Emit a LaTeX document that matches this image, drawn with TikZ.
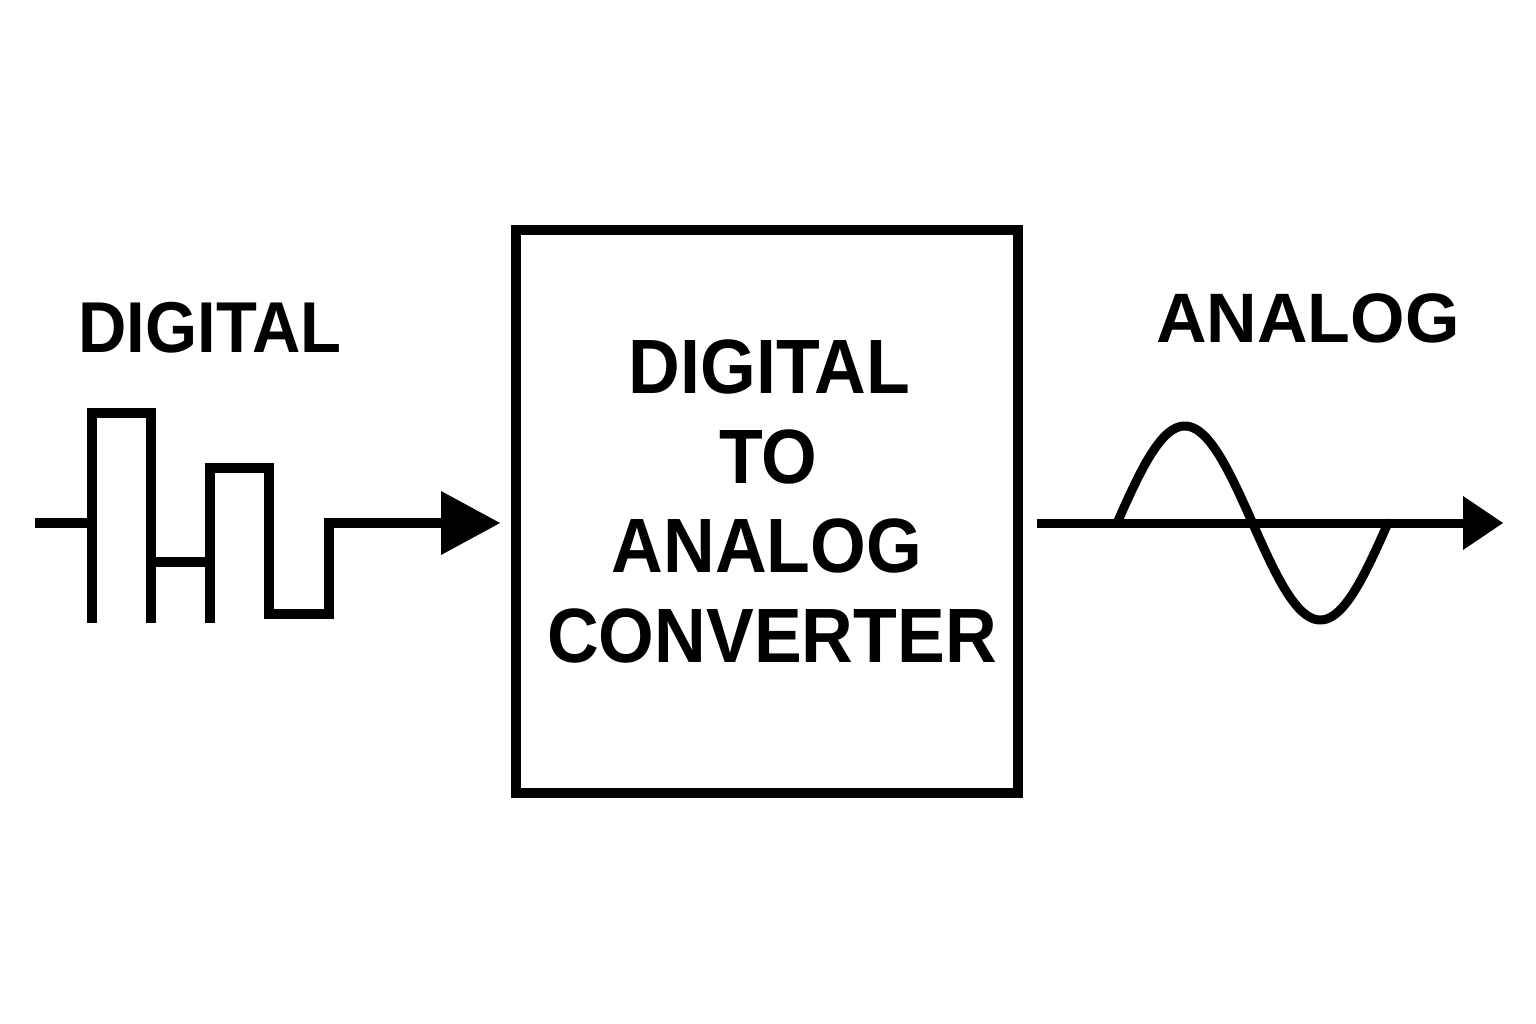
\documentclass[tikz,border=0pt]{standalone}
\usepackage{fontspec}
\usetikzlibrary{arrows.meta}
\newfontfamily\labfont{Liberation Sans}[FakeStretch=0.93]
\newfontfamily\labfontw{Liberation Sans}
\begin{document}
\begin{tikzpicture}[x=1pt,y=-1pt,
  lab/.style={font=\labfont\bfseries\fontsize{72}{80}\selectfont, inner sep=0pt, anchor=base},
  boxtxt/.style={font=\labfont\bfseries\fontsize{77}{90}\selectfont, inner sep=0pt, anchor=base},
  wave/.style={line width=10pt, line join=miter, line cap=butt},
  sig/.style={line width=9pt, line cap=butt},
  bigtip/.style={-{Triangle[length=59pt,width=64pt,line width=0pt]}},
  smalltip/.style={-{Triangle[length=40pt,width=54pt,line width=0pt]}}]
\useasboundingbox (0,0) rectangle (1536,1024);
\fill[white] (0,0) rectangle (1536,1024);

% converter box
\node[draw, line width=10pt, minimum width=502pt, minimum height=563pt, inner sep=0pt] (box) at (767,511.5) {};
\node[boxtxt] (t1) at (769.5,393) {DIGITAL};
\node[boxtxt] (t2) at (768.5,483) {TO};
\node[boxtxt] (t3) at (767,572) {ANALOG};
\node[boxtxt] (t4) at (772,662) {CONVERTER};

% labels
\node[lab] (dlab) at (210,352) {DIGITAL};
\node[lab, font=\labfontw\bfseries\fontsize{70}{80}\selectfont] (alab) at (1308,342) {ANALOG};

% digital waveform
\coordinate (d0) at (35,523);
\coordinate (d1) at (92,523);
\coordinate (d6) at (329,523);
\draw[wave] (d0) -- (d1);
\draw[wave] (92,623) -- (92,413) -- (151,413) -- (151,623);
\draw[wave] (151,562) -- (210,562);
\draw[wave] (210,623) -- (210,468) -- (269,468) -- (269,614) -- (329,614) -- (d6);
\draw[wave, bigtip, shorten >=11pt] ([xshift=-5pt]d6) -- (box.west |- d6);

% analog side
\coordinate (aend) at (1503,523);
\draw[sig, smalltip, shorten <=14pt] (box.east |- aend) -- (aend);
\draw[line width=9pt, line cap=round] plot[domain=0:360, samples=120, smooth] ({1117 + \x/360*271}, {523 - 97*sin(\x)});
\end{tikzpicture}
\end{document}
